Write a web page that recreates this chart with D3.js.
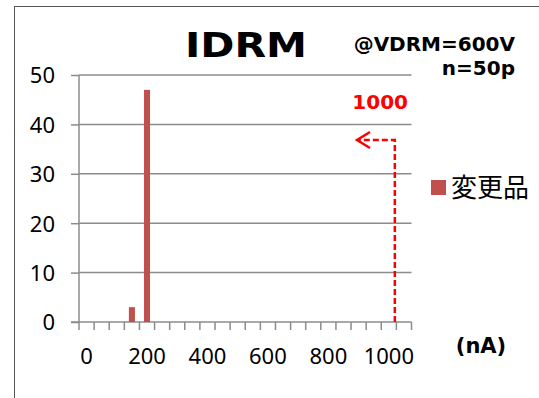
<!DOCTYPE html>
<html><head><meta charset="utf-8">
<script src="https://cdn.jsdelivr.net/npm/d3@7"></script>
<style>html,body{margin:0;padding:0;background:#fff;}svg{display:block;}</style>
</head><body>
<script>
const categories = [0,50,100,150,200,250,300,350,400,450,500,550,600,650,700,750,800,850,900,950,1000,1050];
const counts =     [0,0,0,3,47,0,0,0,0,0,0,0,0,0,0,0,0,0,0,0,0,0];
const yTicks = [0,10,20,30,40,50];
const xTickLabels = [0,200,400,600,800,1000];
const seriesName = "変更品";
const title = "IDRM";
const cond1 = "@VDRM=600V";
const cond2 = "n=50p";
const spec = "1000";
const specValue = 1000;
const unit = "(nA)";

const W = 539, H = 398;
const svg = d3.select("body").append("svg").attr("width", W).attr("height", H);
const font = "'DejaVu Sans', Verdana, sans-serif";
const tickFont = "'Noto Sans', 'Open Sans', sans-serif";

// outer border
svg.append("rect").attr("x", 14.5).attr("y", 6.5).attr("width", 600).attr("height", 500)
  .attr("fill", "none").attr("stroke", "#555").attr("stroke-width", 1);

const x0 = 79, x1 = 411.5, yTop = 75, yBot = 322;
const x = d3.scaleBand().domain(categories).range([x0, x1]).paddingInner(0.6).paddingOuter(0.3);
const y = d3.scaleLinear().domain([0, 50]).range([yBot, yTop]);
const step = x.step();
const boundary = i => x0 + i * step;

const axisColor = "#8c8c8c";
// gridlines
svg.append("g").selectAll("line").data(yTicks.filter(d => d > 0)).join("line")
  .attr("x1", x0).attr("x2", x1).attr("y1", d => y(d)).attr("y2", d => y(d))
  .attr("stroke", axisColor).attr("stroke-width", 1.5);

// y axis
const yAxis = d3.axisLeft(y).tickValues(yTicks).tickSize(8).tickPadding(16);
const gy = svg.append("g").attr("transform", `translate(${x0},0)`).call(yAxis);
gy.select(".domain").remove();
gy.selectAll(".tick line").attr("stroke", axisColor).attr("stroke-width", 1.5);
gy.selectAll(".tick text").attr("font-family", tickFont).attr("font-size", 22).attr("fill", "#000")
  .attr("dy", "0.36em");
svg.append("line").attr("x1", x0).attr("x2", x0).attr("y1", yTop).attr("y2", yBot)
  .attr("stroke", axisColor).attr("stroke-width", 1.5);

// x axis
svg.append("line").attr("x1", x0 - 8).attr("x2", x1).attr("y1", yBot).attr("y2", yBot)
  .attr("stroke", axisColor).attr("stroke-width", 1.5);
svg.append("g").selectAll("line").data(d3.range(categories.length + 1)).join("line")
  .attr("x1", i => boundary(i)).attr("x2", i => boundary(i))
  .attr("y1", yBot).attr("y2", yBot + 8)
  .attr("stroke", axisColor).attr("stroke-width", 1.5);
svg.append("g").selectAll("text").data(xTickLabels).join("text")
  .attr("x", d => x(d) + x.bandwidth() / 2).attr("y", 364)
  .attr("text-anchor", "middle").attr("font-family", tickFont).attr("font-size", 22).attr("fill", "#000")
  .text(d => d);

// bars
svg.append("g").selectAll("rect").data(categories.map((c, i) => ({c, v: counts[i]})).filter(d => d.v > 0)).join("rect")
  .attr("x", d => x(d.c)).attr("width", x.bandwidth())
  .attr("y", d => y(d.v)).attr("height", d => y(0) - y(d.v))
  .attr("fill", "#C0504D");

// title & annotations
svg.append("text").attr("x", 246).attr("y", 57).attr("text-anchor", "middle")
  .attr("font-family", font).attr("font-weight", "bold").attr("font-size", 33)
  .attr("textLength", 122).attr("lengthAdjust", "spacingAndGlyphs").text(title);
svg.append("text").attr("x", 515).attr("y", 51).attr("text-anchor", "end")
  .attr("font-family", font).attr("font-weight", "bold").attr("font-size", 20).text(cond1);
svg.append("text").attr("x", 515).attr("y", 75).attr("text-anchor", "end")
  .attr("font-family", font).attr("font-weight", "bold").attr("font-size", 20).text(cond2);
svg.append("text").attr("x", 408).attr("y", 109).attr("text-anchor", "end")
  .attr("font-family", font).attr("font-weight", "bold").attr("font-size", 20).attr("fill", "#ff0000").text(spec);
svg.append("text").attr("x", 481).attr("y", 353).attr("text-anchor", "middle")
  .attr("font-family", font).attr("font-weight", "bold").attr("font-size", 21).text(unit);

// spec arrow (dashed)
const specX = x(specValue) + x.bandwidth() / 2 + 6;
const arrowY = 140, tipX = 357;
svg.append("path")
  .attr("d", `M${specX},${yBot} L${specX},${arrowY} L${tipX + 2},${arrowY}`)
  .attr("fill", "none").attr("stroke", "#ff0000").attr("stroke-width", 2.5).attr("stroke-dasharray", "6,3");
svg.append("path")
  .attr("d", `M${tipX + 13},${arrowY - 8} L${tipX},${arrowY} L${tipX + 13},${arrowY + 8}`)
  .attr("fill", "none").attr("stroke", "#ff0000").attr("stroke-width", 2.5);

// legend
svg.append("rect").attr("x", 431).attr("y", 180).attr("width", 15).attr("height", 15).attr("fill", "#C0504D");
svg.append("text").attr("x", 451).attr("y", 197)
  .attr("font-family", "'Noto Sans CJK JP', sans-serif").attr("font-size", 26).text(seriesName);
</script>
</body></html>
